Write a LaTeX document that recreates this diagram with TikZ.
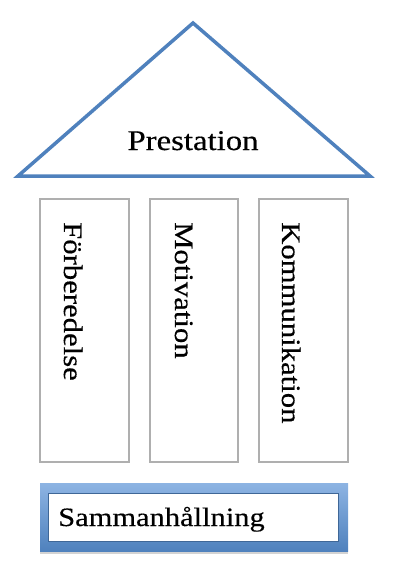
\documentclass[tikz,border=0pt]{standalone}
\usepackage{fontspec}
\setmainfont{Liberation Serif}
\newfontfamily\camb[FakeStretch=1.15,FakeBold=0.4]{Liberation Serif}
\usetikzlibrary{shadows}
\definecolor{roofblue}{RGB}{79,129,189}
\definecolor{lightblue}{RGB}{141,180,227}
\definecolor{pillargray}{RGB}{175,175,175}
\tikzset{
  pillar/.style={draw=pillargray, line width=1.2pt, fill=white},
  pillartext/.style={font=\camb\fontsize{26.7}{30}\selectfont, rotate=-90, anchor=base west, inner sep=0pt},
}
\begin{document}
\begin{tikzpicture}[x=1pt,y=-1pt]
\useasboundingbox (0,0) rectangle (404,586);
% roof
\coordinate (apex) at (193,23);
\coordinate (bl) at (18,176);
\coordinate (br) at (370,176);
\draw[roofblue, line width=3.5pt, line join=miter] (apex) -- (br) -- (bl) -- cycle;
\node[font=\camb\fontsize{28.5}{32}\selectfont, anchor=base, inner sep=0pt] (prest) at (193,150) {Prestation};
% pillars
\draw[pillar] (40,199) rectangle (129,462);
\draw[pillar] (150,199) rectangle (238,462);
\draw[pillar] (259,199) rectangle (348,462);
\node[pillartext] (p1) at (64,222) {Förberedelse};
\node[pillartext] (p2) at (175,222) {Motivation};
\node[pillartext] (p3) at (282,222) {Kommunikation};
% base
\shade[top color=lightblue, bottom color=roofblue, drop shadow={shadow xshift=0pt, shadow yshift=-3pt, opacity=0.35}] (40,483) rectangle (348,551);
\draw[roofblue!80!black, line width=0.8pt, fill=white] (48,493) rectangle (338,541);
\node[font=\camb\fontsize{26.5}{30}\selectfont, anchor=base west, inner sep=0pt] (base) at (58,526) {Sammanhållning};
\end{tikzpicture}
\end{document}
